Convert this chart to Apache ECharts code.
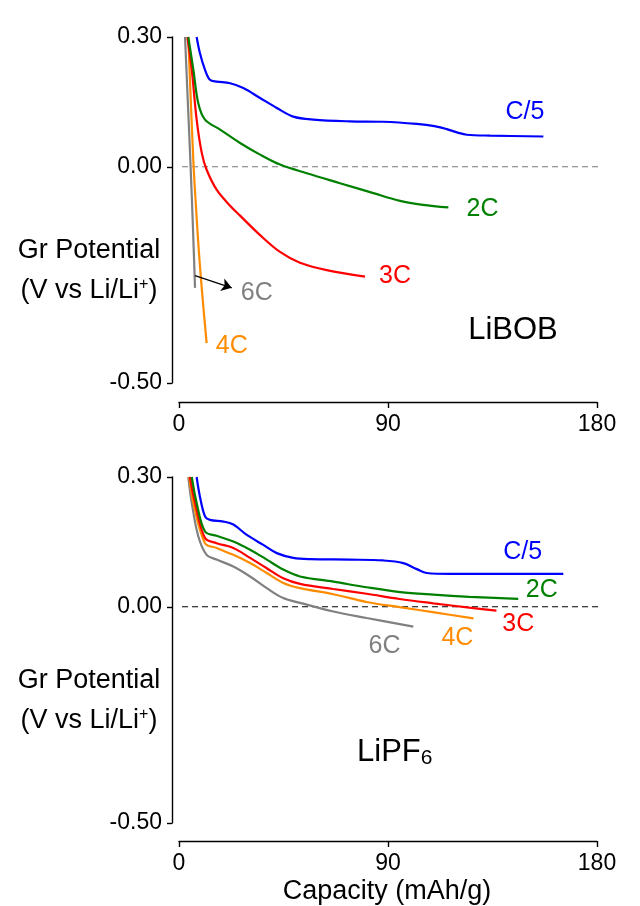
<!DOCTYPE html>
<html>
<head>
<meta charset="utf-8">
<title>Graphite potential vs capacity</title>
<script src="https://cdn.jsdelivr.net/npm/echarts@6/dist/echarts.min.js"></script>
<style>
  html, body { margin: 0; padding: 0; background: #fff; }
  #chart { width: 640px; height: 906px; }
</style>
</head>
<body>
<div id="chart"></div>
<script>
// Graphite potential (V vs Li/Li+) against capacity (mAh/g) at several C-rates,
// LiBOB electrolyte (upper panel) and LiPF6 electrolyte (lower panel).

const rates = ['C/5', '2C', '3C', '4C', '6C'];
const rateColors = ['#0000ff', '#008000', '#ff0000', '#ff8c00', '#808080'];

const xTicks = [0, 90, 180];
const yTicks = [-0.5, 0, 0.3];

// LiBOB: [capacity, potential]
const libobC5 = [[7.6,0.30],[9.0,0.263],[11.2,0.224],[13.3,0.201],[16.2,0.197],[22,0.193],[27.7,0.182],[34.9,0.159],[42.1,0.136],[49.2,0.116],[57.8,0.109],[73.6,0.105],[88,0.104],[102.4,0.099],[110,0.094],[115.3,0.087],[120,0.079],[123.9,0.074],[134,0.072],[156.9,0.070]];
const libob2C = [[4.0,0.30],[6.2,0.224],[8.3,0.147],[11.2,0.109],[17.7,0.086],[26.3,0.055],[34.9,0.028],[43.5,0.005],[55,-0.015],[69.3,-0.038],[83.7,-0.061],[95.2,-0.079],[105,-0.088],[116,-0.094]];
const libob3C = [[3.6,0.30],[5.5,0.224],[7.6,0.109],[9.8,0.032],[11.9,-0.007],[16.2,-0.053],[22,-0.090],[26.3,-0.113],[34.9,-0.158],[43.5,-0.197],[52.1,-0.222],[63.6,-0.239],[80.1,-0.254]];
const libob4C = [[4.0,0.30],[5.1,0.15],[6.3,0.0],[7.4,-0.10],[8.6,-0.20],[10.1,-0.30],[11.9,-0.408]];
const libob6C = [[2.6,0.30],[3.8,0.15],[5.0,0.0],[6.0,-0.14],[6.9,-0.28]];

// LiPF6: [capacity, potential]
const lipf6C5 = [[7.6,0.30],[9.0,0.255],[11.2,0.209],[13.3,0.201],[19.1,0.197],[23.4,0.190],[29.2,0.166],[36.3,0.143],[42.1,0.124],[49.2,0.113],[56.4,0.110],[73.6,0.109],[88,0.107],[96.6,0.101],[102.4,0.087],[106.7,0.078],[116.7,0.076],[165.5,0.076]];
const lipf62C = [[5.5,0.30],[7.6,0.240],[11.2,0.174],[16.2,0.164],[23.4,0.151],[30.6,0.132],[37.8,0.109],[44.9,0.086],[52.1,0.070],[66.5,0.058],[80.8,0.045],[95.2,0.034],[109.5,0.028],[125,0.023],[146.1,0.018]];
const lipf63C = [[4.7,0.30],[6.9,0.240],[11.2,0.159],[16.2,0.147],[23.4,0.136],[30.6,0.113],[37.8,0.089],[44.9,0.066],[52.1,0.053],[66.5,0.041],[80.8,0.030],[95,0.018],[109.5,0.008],[125,-0.002],[136.7,-0.009]];
const lipf64C = [[4.4,0.30],[6.2,0.240],[11.2,0.147],[16.2,0.136],[23.4,0.120],[30.6,0.101],[37.8,0.078],[44.9,0.055],[52.1,0.043],[66.5,0.029],[80.8,0.011],[95,-0.001],[110,-0.013],[126.8,-0.027]];
const lipf66C = [[4.0,0.30],[5.5,0.240],[8.3,0.163],[11.9,0.120],[16.2,0.109],[23.4,0.093],[30.6,0.070],[37.8,0.043],[44.9,0.020],[52.1,0.009],[66.5,-0.011],[80.8,-0.026],[100.9,-0.046]];

// Zero-potential reference level and its horizontal extent
const refLevel = 0;
const refExtent = [-3, 190];

// Where each rate name sits, in data units
const labelAnchors = {
  top:    { 'C/5': [149, 0.127], '2C': [130.7, -0.099], '3C': [93, -0.254], '4C': [22.7, -0.415], '6C': [33.5, -0.292] },
  bottom: { 'C/5': [148, 0.126], '2C': [156.2, 0.039], '3C': [146.1, -0.040], '4C': [119.9, -0.072], '6C': [88.5, -0.090] }
};
// Pointer from the 6C LiBOB curve to its name
const pointer6C = [[6.9, -0.252], [22.7, -0.280]];

const FONT = "'Liberation Sans', Arial, sans-serif";

const panels = [
  { key: 'top', series: [libobC5, libob2C, libob3C, libob4C, libob6C], refColor: '#7a7a7a', xOffset: 19 },
  { key: 'bottom', series: [lipf6C5, lipf62C, lipf63C, lipf64C, lipf66C], refColor: '#000000', xOffset: 18 }
];

const grids = [
  { left: 179, top: 37, width: 418, height: 346, outerBoundsMode: 'none' },
  { left: 179, top: 477, width: 418, height: 346, outerBoundsMode: 'none' }
];

const axisLine = { show: true, onZero: false, lineStyle: { color: '#000', width: 1.4 } };

const xAxes = panels.map((p, i) => ({
  type: 'value', gridIndex: i, min: xTicks[0], max: xTicks[2], interval: xTicks[1] - xTicks[0],
  position: 'bottom', offset: p.xOffset,
  axisLine: axisLine,
  axisTick: { show: true, length: 6, lineStyle: { color: '#000', width: 1.4 } },
  axisLabel: { color: '#000', fontSize: 23, fontFamily: FONT, margin: 11 },
  splitLine: { show: false }
}));

const yAxes = panels.map((p, i) => ({
  type: 'value', gridIndex: i, min: yTicks[0], max: yTicks[2],
  position: 'left', offset: 7,
  axisLine: axisLine,
  axisTick: { show: true, length: 5, customValues: yTicks, lineStyle: { color: '#000', width: 1.4 } },
  axisLabel: { customValues: yTicks, formatter: v => v.toFixed(2), color: '#000', fontSize: 23, fontFamily: FONT, margin: 10 },
  splitLine: { show: false }
}));

const series = [];
panels.forEach((p, gi) => {
  series.push({
    type: 'line', xAxisIndex: gi, yAxisIndex: gi,
    data: [[refExtent[0], refLevel], [refExtent[1], refLevel]],
    clip: false, symbol: 'none', silent: true, z: 1,
    lineStyle: { color: p.refColor, width: 1.1, type: [6, 4] }
  });
  p.series.forEach((d, si) => {
    const name = rates[si];
    const s = {
      type: 'line', name: name, xAxisIndex: gi, yAxisIndex: gi,
      data: d, symbol: 'none', smooth: 0.35,
      lineStyle: { color: rateColors[si], width: 2.2 },
      z: 3 + (4 - si),
      markPoint: {
        symbol: 'circle', symbolSize: 0, silent: true,
        data: [{ coord: labelAnchors[p.key][name] }],
        label: { show: true, position: 'inside', formatter: name, color: rateColors[si], fontSize: 25, fontFamily: FONT }
      }
    };
    if (gi === 0 && name === '6C') {
      s.markLine = {
        silent: true, symbol: ['none', 'arrow'], symbolSize: 10,
        label: { show: false },
        lineStyle: { color: '#000', width: 1.3, type: 'solid' },
        data: [[{ coord: pointer6C[0] }, { coord: pointer6C[1] }]]
      };
    }
    series.push(s);
  });
});

const textStyle = (size) => ({ fill: '#000', font: size + 'px ' + FONT, align: 'center', verticalAlign: 'middle' });

const yNameBlock = (cy) => [
  { type: 'text', x: 89, y: cy - 20, style: Object.assign(textStyle(27), { text: 'Gr Potential' }) },
  { type: 'text', x: 89, y: cy + 20, style: Object.assign(textStyle(27), {
      text: '(V vs Li/Li{sup|+})',
      rich: { sup: { fontSize: 16, fontFamily: FONT, fill: '#000', padding: [0, 0, 13, 0] } }
  }) }
];

const graphic = [
  ...yNameBlock(271),
  ...yNameBlock(701),
  { type: 'text', x: 513, y: 330, style: Object.assign(textStyle(31), { text: 'LiBOB' }) },
  { type: 'text', x: 357, y: 752, style: Object.assign(textStyle(31), {
      text: 'LiPF{sub|6}', align: 'left',
      rich: { sub: { fontSize: 21, fontFamily: FONT, fill: '#000', padding: [12, 0, 0, 0] } }
  }) },
  { type: 'text', x: 387, y: 892, style: Object.assign(textStyle(27), { text: 'Capacity (mAh/g)' }) }
];

const chart = echarts.init(document.getElementById('chart'), null, { renderer: 'canvas' });
chart.setOption({
  backgroundColor: '#ffffff',
  animation: false,
  grid: grids,
  xAxis: xAxes,
  yAxis: yAxes,
  series: series,
  graphic: graphic
});
</script>
</body>
</html>
